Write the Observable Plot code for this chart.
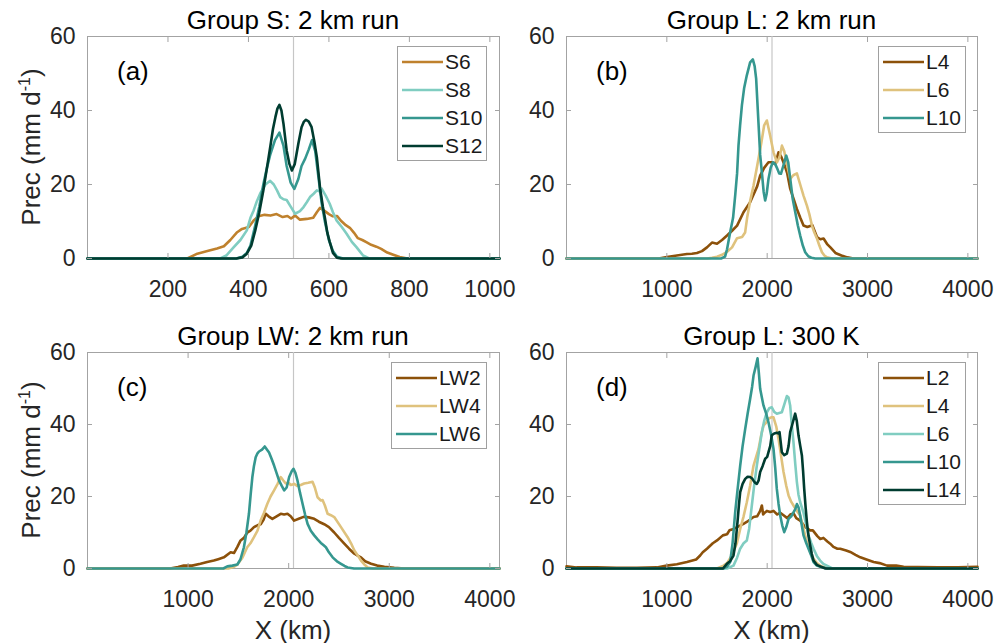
<!DOCTYPE html>
<html>
<head>
<meta charset="utf-8">
<script src="https://cdn.jsdelivr.net/npm/d3@7"></script>
<script src="https://cdn.jsdelivr.net/npm/@observablehq/plot@0.6"></script>
<style>
  body { margin: 0; background: #fff; }
  #root { position: relative; width: 996px; height: 643px; overflow: hidden; background: #fff;
          font-family: "Liberation Sans", Arial, Helvetica, sans-serif; }
  #root svg { overflow: visible; max-width: none; }
  .txt { position: absolute; white-space: nowrap; color: #000; }
  .legend { position: absolute; box-sizing: border-box; border: 1px solid #a0a0a0; background: #fff; padding-top: 1px; }
  .legend .row { height: 28px; display: flex; align-items: center; font-size: 21px; color: #1a1a1a; }
  .legend .row svg { margin-left: 4px; margin-right: 2px; }
  sup { font-size: 16px; line-height: 0; vertical-align: 10px; }
</style>
</head>
<body>
<div id="root"></div>
<script>
// ---------------- data (x in km, precipitation in mm/day) ----------------
const xTicksA = [200, 400, 600, 800, 1000];
const xTicksL = [1000, 2000, 3000, 4000];
const yTicks = [0, 20, 40, 60];

// Panel (a): Group S, 2 km run
const S6 = [[0,0],[248,0],[273,1.3],[298,2],[322,2.7],[339,3.3],[355,5],[372,7.1],[384,8],[401,8.5],[413,10.3],[425,11.4],[440,11.8],[455,11.6],[470,12],[485,11.2],[497,11.5],[506,10.8],[516,11.6],[528,10.5],[545,10.7],[561,11],[570,12.5],[578,13.7],[590,12.8],[600,12],[610,11.4],[620,11.5],[630,10.2],[642,9],[652,8.3],[662,7],[672,5.5],[683,5],[693,4.4],[705,3.7],[718,3.2],[730,2.6],[745,1.6],[760,1],[776,0.4],[795,0],[1024,0]];
const S8 = [[0,0],[330,0],[345,0.8],[363,3],[380,5],[396,7.6],[405,11],[413,13],[421,15.5],[429,17.5],[442,20],[454,21],[463,20],[471,18.4],[479,16.6],[487,16],[495,15.8],[505,14],[516,12.1],[528,12.8],[537,13.9],[545,15.2],[553,16.6],[562,17.5],[570,18.4],[576,18.2],[582,18.9],[592,17],[602,14.8],[610,12.5],[619,10.3],[632,8.5],[644,6.7],[657,4.5],[669,3],[685,0.8],[700,0],[1024,0]];
const S10 = [[0,0],[370,0],[385,0.5],[396,1.5],[405,3.5],[417,9],[427,14],[437,20],[446,24.5],[454,28],[466,32],[477,34],[487,30.5],[495,25],[505,20.5],[514,18.8],[524,21.5],[532,25],[541,27],[550,29.5],[558,32],[566,29],[574,22],[582,15],[590,10],[600,5],[610,2],[620,0.5],[635,0],[1024,0]];
const S12 = [[0,0],[370,0],[385,0.3],[396,1.3],[407,3.5],[417,7.6],[427,12.5],[437,18.4],[446,24.5],[454,30],[461,35],[467,38.2],[472,40.5],[477,41.5],[482,40],[487,36.5],[495,29.2],[502,25.5],[508,23.8],[515,25.5],[524,31],[532,35.5],[538,37],[543,37.5],[550,37],[557,35.5],[564,31.5],[570,27.4],[578,19],[585,14],[590,11],[596,7],[602,4.5],[610,1.5],[620,0.2],[630,0],[1024,0]];

// Panel (b): Group L, 2 km run
const L4b = [[0,0],[920,0],[1000,0.4],[1100,0.8],[1200,1.2],[1250,1.3],[1300,1.5],[1350,2],[1400,3],[1450,4.3],[1500,4],[1550,5],[1600,6.2],[1650,7.5],[1700,8.9],[1764,12.5],[1830,15.2],[1900,19.5],[1930,22.4],[1970,24.5],[2013,26],[2050,26],[2080,25.5],[2113,28.7],[2140,27.5],[2170,25.5],[2200,23],[2230,18.8],[2265,16],[2296,13.4],[2330,11],[2362,8.9],[2400,8.5],[2450,9],[2496,5.8],[2530,5.2],[2562,5.4],[2600,3.8],[2630,3],[2680,1.5],[2740,0.8],[2800,0.3],[2860,0],[4096,0]];
const L6b = [[0,0],[1400,0],[1450,0.2],[1500,0.5],[1550,1],[1600,1.8],[1650,3],[1700,5.5],[1750,5.8],[1780,7],[1800,11],[1830,15.5],[1864,19.7],[1900,25],[1940,31],[1970,36],[1997,37.3],[2030,33.2],[2063,28.7],[2097,26],[2125,27.5],[2147,30.5],[2170,29],[2197,25.5],[2230,21.5],[2260,22.5],[2296,23],[2329,20],[2362,17],[2396,14.3],[2420,12],[2446,8.9],[2470,7],[2496,5.4],[2520,3.5],[2546,1.7],[2570,0.8],[2596,0.3],[2650,0],[4096,0]];
const L10b = [[0,0],[1540,0],[1580,0.5],[1600,2.5],[1631,7.1],[1660,11],[1681,17],[1700,23],[1714,30.5],[1730,36],[1748,41.4],[1770,46],[1797,49.5],[1830,53],[1857,53.8],[1875,52],[1890,48.6],[1913,36.8],[1930,28],[1947,23.3],[1965,18],[1980,15.7],[1995,17.5],[2013,21.5],[2035,24.5],[2057,26],[2080,25.5],[2097,24.5],[2120,23],[2137,22.9],[2160,25],[2190,27.8],[2210,26],[2230,21.5],[2255,16],[2280,12.5],[2305,9],[2329,6.2],[2355,3.5],[2379,1.7],[2410,0.6],[2440,0.2],[2480,0],[4096,0]];

// Panel (c): Group LW, 2 km run
const LW2 = [[0,0],[820,0],[900,0.4],[957,0.8],[1040,0.8],[1123,1.3],[1190,1.8],[1256,2.2],[1300,2.6],[1356,3.1],[1423,4.5],[1456,4.3],[1490,6],[1522,7.8],[1555,8.5],[1589,10],[1620,10.5],[1655,11.5],[1690,12],[1722,12.3],[1750,13.5],[1772,15.2],[1800,14.5],[1838,13.8],[1880,14.5],[1921,15.2],[1955,15],[1988,15.2],[2020,14.5],[2054,13.3],[2100,13.8],[2154,14.4],[2200,14.2],[2254,13.8],[2300,13],[2353,12.3],[2400,11.5],[2453,10],[2500,8.5],[2553,6.9],[2600,5.5],[2653,4.1],[2690,3.5],[2719,3.1],[2760,2],[2819,1.3],[2880,0.8],[2952,0.5],[3050,0.2],[3150,0],[4096,0]];
const LW4 = [[0,0],[1400,0],[1450,0.4],[1490,1.1],[1540,3],[1588,5.9],[1620,7],[1655,8.7],[1690,10.5],[1722,13.4],[1755,15.5],[1788,18],[1820,20],[1855,21.7],[1890,23.5],[1921,25.4],[1945,24.5],[1971,23.6],[2000,23.8],[2021,23.2],[2055,23.5],[2088,22.9],[2120,23.2],[2154,23.6],[2195,23.8],[2237,24.1],[2260,22.5],[2287,19.8],[2320,18.9],[2337,19],[2360,17.5],[2387,15.2],[2420,14.8],[2453,14.3],[2520,11.5],[2586,8.7],[2620,7],[2653,5],[2690,3.5],[2719,2.2],[2750,1.2],[2786,0.3],[2840,0],[4096,0]];
const LW6 = [[0,0],[1350,0],[1390,0.6],[1440,0.8],[1490,1.1],[1520,2.5],[1555,5.9],[1580,10],[1605,15.2],[1622,20.5],[1639,25.4],[1655,28.5],[1672,30.9],[1690,32],[1705,32.5],[1735,33],[1762,33.9],[1785,33],[1805,32.2],[1830,30.5],[1855,28.6],[1880,26.5],[1905,24.4],[1930,23],[1955,21.7],[1980,22.5],[2005,25.4],[2030,27],[2048,27.7],[2068,26.5],[2088,24.4],[2113,21],[2138,18],[2163,15],[2188,12.4],[2220,10.5],[2254,9.2],[2290,8],[2320,7.1],[2345,6.5],[2370,5.9],[2400,4.5],[2437,3.1],[2480,2],[2520,1.3],[2555,0.7],[2586,0.3],[2650,0],[4096,0]];

// Panel (d): Group L, 300 K
const L2d = [[0,0.6],[100,0.3],[300,0.3],[500,0.2],[700,0.2],[900,0.3],[1000,0.8],[1100,1.2],[1200,1.8],[1292,2.5],[1332,3.6],[1358,4.5],[1400,5.5],[1458,7],[1500,7.8],[1558,9.2],[1600,9.5],[1624,10.6],[1665,11],[1700,11.5],[1764,12.4],[1800,13],[1864,14.3],[1900,14.5],[1930,16],[1947,17.5],[1960,15],[1975,15.5],[1997,16],[2030,15.7],[2063,16],[2100,15],[2130,15.5],[2163,14.8],[2200,14],[2230,15],[2263,15.3],[2290,14],[2329,13.3],[2380,11.5],[2429,10.6],[2455,10.6],[2500,9],[2529,8.2],[2560,8.5],[2600,7.5],[2628,6.9],[2660,6],[2700,5.5],[2728,5.5],[2787,5],[2828,4.6],[2880,3.8],[2928,3.1],[2990,2.5],[3061,1.8],[3120,1.5],[3194,0.8],[3286,0.8],[3360,0.5],[3500,0.4],[3700,0.3],[3900,0.3],[4096,0.5]];
const L4d = [[0,0],[1500,0],[1565,0.8],[1600,1.5],[1648,3.6],[1698,7],[1731,11],[1765,14.5],[1797,18.4],[1830,23],[1864,28.6],[1890,31],[1914,33.2],[1940,37],[1963,39.7],[1990,40.5],[2013,41.6],[2040,42],[2063,42],[2090,39.5],[2113,36],[2140,31],[2163,26.8],[2190,23],[2213,20.3],[2240,18.5],[2262,17.5],[2296,16],[2329,14.7],[2362,11],[2396,7.3],[2430,4.5],[2462,2.7],[2495,1.5],[2528,0.8],[2600,0],[4096,0]];
const L6d = [[0,0],[1600,0],[1664,0.8],[1700,3],[1731,5.5],[1765,7],[1797,7.8],[1820,11],[1847,17.5],[1870,23],[1897,28.6],[1920,33],[1947,37.9],[1970,41],[1997,43.4],[2020,44.5],[2046,44.8],[2070,43.5],[2096,43],[2120,43.2],[2146,43.4],[2170,45.5],[2196,47.9],[2213,47.5],[2229,45.3],[2245,40],[2262,35.1],[2280,29],[2296,24],[2312,20.5],[2329,18.4],[2362,15.5],[2390,12],[2412,9.2],[2440,7],[2462,5.5],[2495,3.5],[2528,2.2],[2560,1.3],[2595,0.8],[2650,0],[4096,0]];
const L10d = [[0,0],[1560,0],[1600,0.5],[1631,1.8],[1655,7],[1681,15.6],[1705,22],[1731,28.6],[1755,34],[1781,38.8],[1805,43],[1830,47.1],[1850,50.5],[1864,53.6],[1885,56],[1904,58.4],[1918,54],[1930,49.9],[1947,47.5],[1963,45.3],[1990,43],[2013,40.6],[2040,37],[2063,33.2],[2080,28],[2096,22.1],[2113,18],[2130,14.7],[2150,12],[2170,10.1],[2190,11.5],[2213,13.8],[2240,14.5],[2262,15.6],[2280,16.5],[2296,17.9],[2312,17],[2329,14.7],[2345,12],[2362,9.2],[2390,7],[2412,5.5],[2440,3.5],[2462,1.8],[2495,0.8],[2528,0.5],[2600,0],[4096,0]];
const L14d = [[0,0],[1560,0],[1598,1.3],[1630,2],[1664,3.6],[1684,7],[1704,12.9],[1718,17.5],[1731,21.2],[1755,23.5],[1781,24.9],[1805,25.5],[1830,25.4],[1850,25],[1864,24.4],[1880,23.8],[1897,23.5],[1915,24.5],[1930,26.8],[1955,28.5],[1980,30.5],[2000,31],[2013,32.3],[2030,34],[2046,37],[2070,37.5],[2096,37.7],[2113,37.5],[2123,37.9],[2135,35],[2146,32.3],[2170,31.5],[2196,31.9],[2213,34],[2229,37.9],[2250,40],[2279,43],[2295,41],[2312,37],[2330,34],[2346,31.4],[2358,27],[2369,22.1],[2383,17],[2396,12.9],[2412,9],[2429,6.4],[2445,4],[2462,2.2],[2495,1],[2528,0.6],[2580,0],[4096,0]];

// ---------------- styling ----------------
const C = { brown: "#8c510a", orange: "#bf812d", tan: "#dfc27d", lteal: "#80cdc1", teal: "#35978f", dark: "#003c30" };
const axisGray = "#a3a3a3";
const FONT = '"Liberation Sans", Arial, Helvetica, sans-serif';

const panels = [
  { title: "Group S: 2 km run", tag: "(a)", left: 0, top: 0, width: 505, height: 300, m: [36, 6, 42, 87],
    domain: [0, 1024], ticks: xTicksA, center: 512, ylabel: true, xlabel: false,
    series: [["S6", S6, C.orange], ["S8", S8, C.lteal], ["S10", S10, C.teal], ["S12", S12, C.dark]],
    legend: [397, 46, 90] },
  { title: "Group L: 2 km run", tag: "(b)", left: 500, top: 0, width: 490, height: 300, m: [36, 13, 42, 66],
    domain: [0, 4096], ticks: xTicksL, center: 2048, ylabel: false, xlabel: false,
    series: [["L4", L4b, C.brown], ["L6", L6b, C.tan], ["L10", L10b, C.teal]],
    legend: [878, 46, 88] },
  { title: "Group LW: 2 km run", tag: "(c)", left: 0, top: 300, width: 505, height: 300, m: [52, 6, 32, 87],
    domain: [0, 4096], ticks: xTicksL, center: 2048, ylabel: true, xlabel: true,
    series: [["LW2", LW2, C.brown], ["LW4", LW4, C.tan], ["LW6", LW6, C.teal]],
    legend: [391, 362, 96] },
  { title: "Group L: 300 K", tag: "(d)", left: 500, top: 300, width: 490, height: 300, m: [52, 13, 32, 66],
    domain: [0, 4096], ticks: xTicksL, center: 2048, ylabel: false, xlabel: true,
    series: [["L2", L2d, C.brown], ["L4", L4d, C.tan], ["L6", L6d, C.lteal], ["L10", L10d, C.teal], ["L14", L14d, C.dark]],
    legend: [878, 362, 88] }
];

const root = document.getElementById("root");
function addDiv(cls, html, css) {
  const d = document.createElement("div");
  d.className = cls;
  d.innerHTML = html;
  Object.assign(d.style, css);
  root.appendChild(d);
  return d;
}

for (const p of panels) {
  const [mt, mr, mb, ml] = p.m;
  const fx0 = p.left + ml, fx1 = p.left + p.width - mr;
  const fy0 = p.top + mt, fy1 = p.top + p.height - mb;
  const fcx = (fx0 + fx1) / 2, fcy = (fy0 + fy1) / 2;

  const svg = Plot.plot({
    width: p.width, height: p.height,
    marginTop: mt, marginRight: mr, marginBottom: mb, marginLeft: ml,
    x: { domain: p.domain },
    y: { domain: [0, 60] },
    style: { fontFamily: FONT, fontSize: "23px", color: "#262626", background: "transparent", overflow: "visible" },
    marks: [
      Plot.frame({ stroke: axisGray, strokeWidth: 1 }),
      Plot.ruleX([p.center], { stroke: "#c6c6c6", strokeWidth: 1.2 }),
      ...p.series.map(([name, data, color]) =>
        Plot.line(data, { x: d => d[0], y: d => d[1], stroke: color, strokeWidth: 2.6, strokeLinejoin: "round", curve: "linear" })),
      Plot.axisX({ ticks: p.ticks, anchor: "bottom", tickSize: -5, tickPadding: 27, tickFormat: d3.format("d"), label: null, stroke: axisGray, fill: "#262626" }),
      Plot.axisX({ ticks: p.ticks, anchor: "top", tickSize: -5, tickFormat: () => "", label: null, stroke: axisGray }),
      Plot.axisY({ ticks: yTicks, anchor: "left", tickSize: -5, tickPadding: 17, tickFormat: d3.format("d"), label: null, stroke: axisGray, fill: "#262626" }),
      Plot.axisY({ ticks: yTicks, anchor: "right", tickSize: -5, tickFormat: () => "", label: null, stroke: axisGray })
    ]
  });
  svg.style.position = "absolute";
  svg.style.left = p.left + "px";
  svg.style.top = p.top + "px";
  root.appendChild(svg);

  // title
  addDiv("txt", p.title, { left: (fcx - 200) + "px", width: "400px", textAlign: "center", top: (fy0 - 31) + "px",
    fontSize: "26px", lineHeight: "30px" });
  // panel tag
  addDiv("txt", p.tag, { left: (fx0 + 30) + "px", top: (fy0 + 20) + "px", fontSize: "26px", lineHeight: "30px" });
  // y label
  if (p.ylabel) {
    addDiv("txt", "Prec (mm d<sup>-1</sup>)", { left: (31 - 150) + "px", width: "300px", textAlign: "center",
      top: (fcy - 15) + "px", fontSize: "26px", lineHeight: "30px", color: "#262626", transform: "rotate(-90deg)" });
  }
  // x label
  if (p.xlabel) {
    addDiv("txt", "X (km)", { left: (fcx - 100) + "px", width: "200px", textAlign: "center", top: "614.5px",
      fontSize: "26px", lineHeight: "30px", color: "#262626" });
  }
  // legend
  const [lx, ly, lw] = p.legend;
  const lg = addDiv("legend", "", { left: lx + "px", top: ly + "px", width: lw + "px", height: (p.series.length * 28 + 3) + "px" });
  for (const [name, , color] of p.series) {
    const row = document.createElement("div");
    row.className = "row";
    row.innerHTML = `<svg width="41" height="6"><line x1="0" y1="3" x2="41" y2="3" stroke="${color}" stroke-width="2.6"/></svg><span>${name}</span>`;
    lg.appendChild(row);
  }
}
</script>
</body>
</html>
